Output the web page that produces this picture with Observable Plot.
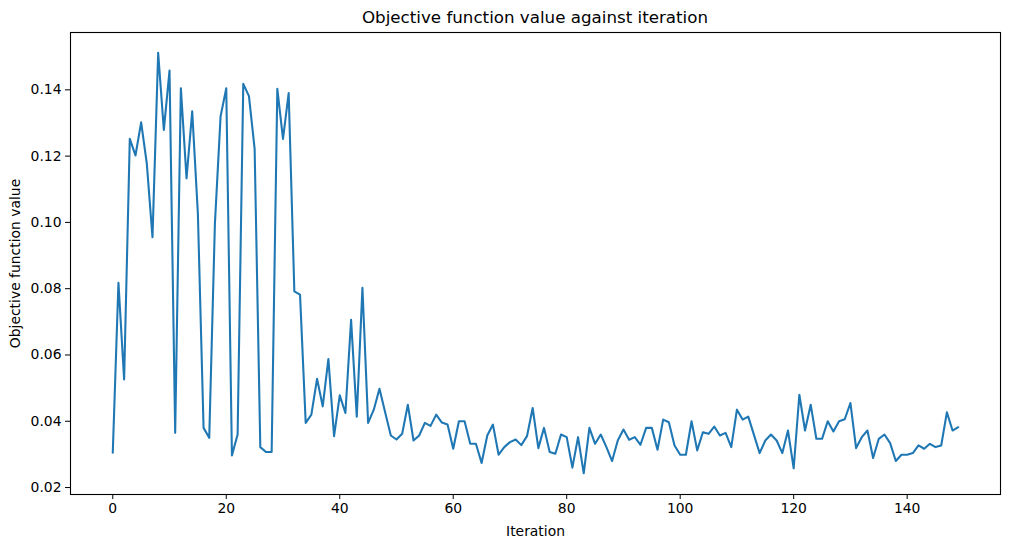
<!DOCTYPE html>
<html>
<head>
<meta charset="utf-8">
<script src="https://cdn.jsdelivr.net/npm/d3@7"></script>
<script src="https://cdn.jsdelivr.net/npm/@observablehq/plot@0.6"></script>
<style>
  html, body { margin: 0; padding: 0; background: #fff; }
  #wrap { position: relative; width: 1010px; height: 547px; font-family: "DejaVu Sans", sans-serif; }
  #title { position: absolute; left: 70px; width: 930px; top: 7px; text-align: center; font-size: 16.7px; color: #000; line-height: 20px; }
  svg { display: block; }
</style>
</head>
<body>
<div id="wrap"><div id="title">Objective function value against iteration</div></div>
<script>
const titleText = "Objective function value against iteration";
const xLabel = "Iteration";
const yLabel = "Objective function value";
const xTicks = [0, 20, 40, 60, 80, 100, 120, 140];
const yTicks = [0.02, 0.04, 0.06, 0.08, 0.10, 0.12, 0.14];
const values = [
  0.0305, 0.0818, 0.0526, 0.1252, 0.1202, 0.1302, 0.1177, 0.0955, 0.1512, 0.1279,
  0.1458, 0.0365, 0.1405, 0.1133, 0.1335, 0.1026, 0.0380, 0.0350, 0.0996, 0.1320,
  0.1405, 0.0297, 0.0360, 0.1418, 0.1381, 0.1222, 0.0322, 0.0307, 0.0307, 0.1403,
  0.1252, 0.1390, 0.0792, 0.0782, 0.0395, 0.0420, 0.0528, 0.0445, 0.0588, 0.0355,
  0.0478, 0.0425, 0.0706, 0.0414, 0.0803, 0.0395, 0.0435, 0.0498, 0.0427, 0.0357,
  0.0345, 0.0362, 0.0450, 0.0342, 0.0357, 0.0395, 0.0386, 0.0420, 0.0396, 0.0390,
  0.0317, 0.0400, 0.0400, 0.0332, 0.0332, 0.0274, 0.0357, 0.0390, 0.0299, 0.0322,
  0.0337, 0.0345, 0.0328, 0.0355, 0.0440, 0.0319, 0.0380, 0.0307, 0.0302, 0.0360,
  0.0352, 0.0260, 0.0352, 0.0243, 0.0380, 0.0332, 0.0360, 0.0322, 0.0280, 0.0342,
  0.0375, 0.0344, 0.0352, 0.0329, 0.0380, 0.0380, 0.0314, 0.0405, 0.0397, 0.0327,
  0.0299, 0.0299, 0.0400, 0.0312, 0.0367, 0.0362, 0.0384, 0.0357, 0.0365, 0.0322,
  0.0435, 0.0405, 0.0414, 0.0359, 0.0304, 0.0342, 0.0360, 0.0342, 0.0304, 0.0372,
  0.0258, 0.0480, 0.0372, 0.0450, 0.0347, 0.0347, 0.0400, 0.0369, 0.0400, 0.0406,
  0.0455, 0.0319, 0.0352, 0.0372, 0.0289, 0.0347, 0.0360, 0.0334, 0.0280, 0.0299,
  0.0299, 0.0304, 0.0327, 0.0317, 0.0332, 0.0322, 0.0327, 0.0427, 0.0372, 0.0382
];
const data = values.map((v, i) => ({iteration: i, value: v}));

const chart = Plot.plot({
  width: 1010,
  height: 547,
  marginLeft: 70,
  marginRight: 10,
  marginTop: 32,
  marginBottom: 53,
  style: {fontFamily: "DejaVu Sans, sans-serif", fontSize: "13.9px", color: "#000", background: "#fff"},
  x: {domain: [-7.45, 156.45]},
  y: {domain: [0.0179, 0.1573]},
  marks: [
    Plot.frame({stroke: "#000", strokeWidth: 1.1}),
    Plot.axisX({ticks: xTicks, tickSize: 5, tickPadding: 4, tickFormat: d3.format("d"), label: xLabel, labelAnchor: "center", labelArrow: "none", labelOffset: 41, fontSize: 13.9}),
    Plot.axisY({ticks: yTicks, tickSize: 5, tickPadding: 4, tickFormat: d3.format(".2f"), label: yLabel, labelAnchor: "center", labelArrow: "none", labelOffset: 60, fontSize: 13.9}),
    Plot.line(data, {x: "iteration", y: "value", stroke: "#1f77b4", strokeWidth: 2.08})
  ]
});
document.getElementById("wrap").appendChild(chart);
</script>
</body>
</html>
